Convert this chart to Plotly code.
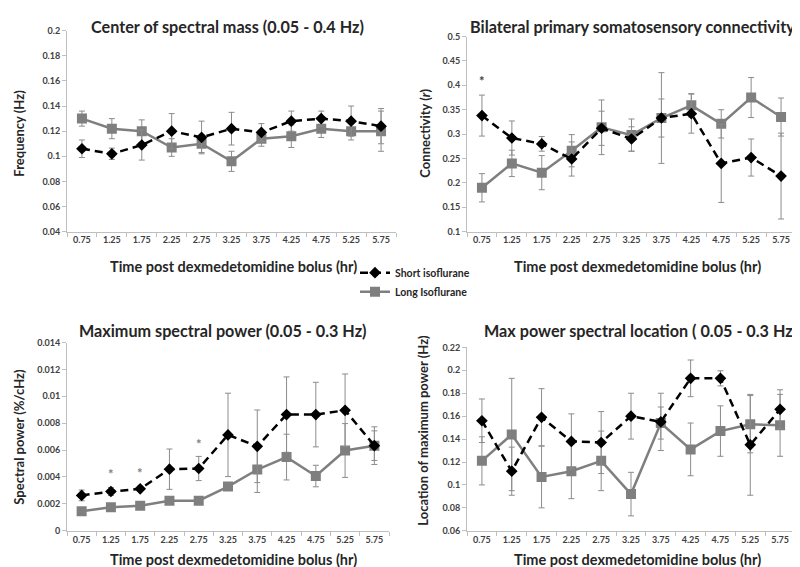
import plotly.graph_objects as go

times = ["0.75", "1.25", "1.75", "2.25", "2.75", "3.25", "3.75", "4.25", "4.75", "5.25", "5.75"]

# Panel 1: Center of spectral mass
freq_short = [0.106, 0.102, 0.109, 0.120, 0.115, 0.122, 0.119, 0.128, 0.130, 0.128, 0.124]
freq_short_err = [0.007, 0.0045, 0.012, 0.014, 0.013, 0.013, 0.007, 0.008, 0.006, 0.012, 0.014]
freq_long = [0.130, 0.122, 0.120, 0.107, 0.110, 0.096, 0.114, 0.116, 0.122, 0.120, 0.120]
freq_long_err = [0.006, 0.008, 0.009, 0.007, 0.007, 0.008, 0.006, 0.009, 0.007, 0.007, 0.016]

# Panel 2: Bilateral primary somatosensory connectivity
conn_short = [0.338, 0.292, 0.280, 0.249, 0.312, 0.290, 0.333, 0.342, 0.240, 0.252, 0.214]
conn_short_err = [0.042, 0.035, 0.015, 0.035, 0.035, 0.025, 0.039, 0.040, 0.080, 0.038, 0.088]
conn_long = [0.190, 0.240, 0.221, 0.266, 0.314, 0.298, 0.333, 0.359, 0.321, 0.375, 0.335]
conn_long_err = [0.029, 0.027, 0.035, 0.033, 0.056, 0.033, 0.093, 0.024, 0.029, 0.041, 0.039]

# Panel 3: Maximum spectral power
pow_short = [0.00263, 0.00292, 0.00312, 0.00458, 0.00463, 0.00713, 0.00628, 0.00864, 0.00864, 0.00896, 0.00633]
pow_short_err = [0.0004, 0.0003, 0.0002, 0.0015, 0.0009, 0.0031, 0.0027, 0.0028, 0.0024, 0.0027, 0.0011]
pow_long = [0.00146, 0.00175, 0.00187, 0.00224, 0.00224, 0.00329, 0.00455, 0.00548, 0.00407, 0.00597, 0.00633]
pow_long_err = [0.0001, 0.0001, 0.0001, 0.0001, 0.0001, 0.0002, 0.0017, 0.0017, 0.0008, 0.0020, 0.0014]

# Panel 4: Max power spectral location
loc_short = [0.156, 0.112, 0.159, 0.138, 0.137, 0.160, 0.155, 0.193, 0.193, 0.135, 0.166]
loc_short_err = [0.019, 0.021, 0.025, 0.024, 0.027, 0.020, 0.025, 0.016, 0.0066, 0.044, 0.017]
loc_long = [0.121, 0.144, 0.107, 0.112, 0.121, 0.092, 0.154, 0.131, 0.147, 0.153, 0.152]
loc_long_err = [0.021, 0.049, 0.027, 0.024, 0.026, 0.019, 0.014, 0.023, 0.022, 0.025, 0.027]

# significance markers (category, value)
sig_conn = [("0.75", 0.408)]
sig_pow = [("1.25", 0.0042), ("1.75", 0.00433), ("2.75", 0.00645)]

FONT = "Lato"
ERR_COL = "#8c8c8c"
LONG_COL = "#7f7f7f"
AX_COL = "#bfbfbf"
TXT = "#262626"

fig = go.Figure()

panels = [
    ("x", "y", freq_short, freq_short_err, freq_long, freq_long_err),
    ("x2", "y2", conn_short, conn_short_err, conn_long, conn_long_err),
    ("x3", "y3", pow_short, pow_short_err, pow_long, pow_long_err),
    ("x4", "y4", loc_short, loc_short_err, loc_long, loc_long_err),
]

for i, (xa, ya, s, se, l, le) in enumerate(panels):
    fig.add_trace(go.Scatter(
        x=times, y=l, xaxis=xa, yaxis=ya, mode="lines+markers",
        name="Long Isoflurane", showlegend=(i == 0), legendrank=2,
        line=dict(color=LONG_COL, width=2.5),
        marker=dict(symbol="square", size=10, color=LONG_COL),
        error_y=dict(type="data", array=le, color=ERR_COL, thickness=1, width=3),
    ))
    fig.add_trace(go.Scatter(
        x=times, y=s, xaxis=xa, yaxis=ya, mode="lines+markers",
        name="Short isoflurane", showlegend=(i == 0), legendrank=1,
        line=dict(color="black", width=2.5, dash="8px,5px"),
        marker=dict(symbol="diamond", size=9, color="black"),
        error_y=dict(type="data", array=se, color=ERR_COL, thickness=1, width=3),
    ))

W, H = 800, 567
def px(x): return x / W
def py(y): return 1 - y / H

doms = {
    1: ([px(59), px(388)], [py(222), py(17)]),
    2: ([px(459), px(788)], [py(222), py(23)]),
    3: ([px(59), px(381)], [py(527), py(335)]),
    4: ([px(459), px(787)], [py(527), py(340)]),
}
yranges = {1: (0.04, 0.2, 0.02), 2: (0.1, 0.5, 0.05), 3: (0, 0.014, 0.002), 4: (0.06, 0.22, 0.02)}

layout = dict(
    width=W, height=H, margin=dict(l=0, r=0, t=0, b=0),
    paper_bgcolor="white", plot_bgcolor="white",
    font=dict(family=FONT, color=TXT, weight="bold"),
    legend=dict(x=px(347), y=py(249), xanchor="left", yanchor="top",
                font=dict(size=10.5, family=FONT, weight="bold"),
                itemwidth=30, bgcolor="rgba(0,0,0,0)"),
    showlegend=True,
)
for k in range(1, 5):
    sx = "" if k == 1 else str(k)
    xd, yd = doms[k]
    r0, r1, dt = yranges[k]
    tv = []
    v = r0
    while v <= r1 + 1e-9:
        tv.append(round(v, 6))
        v += dt
    tt = [("%g" % t) for t in tv]
    layout["xaxis" + sx] = dict(
        domain=xd, anchor="y" + sx, type="category", range=[-0.5, 10.5],
        showline=True, linecolor=AX_COL, linewidth=1, ticks="outside",
        tickson="boundaries", ticklen=4, tickcolor=AX_COL, showgrid=False,
        tickfont=dict(size=9, family=FONT, weight="bold", color="#404040"),
        zeroline=False,
    )
    layout["yaxis" + sx] = dict(
        domain=yd, anchor="x" + sx, range=[r0, r1],
        tickvals=tv, ticktext=tt,
        showline=True, linecolor=AX_COL, linewidth=1, ticks="outside",
        ticklen=4, tickcolor=AX_COL, showgrid=False, zeroline=False,
        tickfont=dict(size=9, family=FONT, weight="bold", color="#404040"),
    )
fig.update_layout(**layout)

ann = []
titles = [
    ("Center of spectral mass (0.05 - 0.4 Hz)", 219, 13),
    ("Bilateral primary somatosensory connectivity", 624, 13),
    ("Maximum spectral power (0.05 - 0.3 Hz)", 215, 323),
    ("Max power spectral location ( 0.05 - 0.3 Hz)", 632, 323),
]
for t, x, y in titles:
    ann.append(dict(text=t, x=px(x), y=py(y), xref="paper", yref="paper",
                    showarrow=False, xanchor="center", yanchor="middle",
                    font=dict(size=16.2, family=FONT, weight="bold", color=TXT)))
xtitles = [(226, 257), (629, 257), (226, 556), (629, 556)]
for x, y in xtitles:
    ann.append(dict(text="Time post dexmedetomidine bolus (hr)", x=px(x), y=py(y),
                    xref="paper", yref="paper", showarrow=False,
                    xanchor="center", yanchor="middle",
                    font=dict(size=14.5, family=FONT, weight="bold", color=TXT)))
ytitles = [("Frequency (Hz)", 11, 122), ("Connectivity (<i>r</i>)", 417, 122),
           ("Spectral power (%/cHz)", 11, 431), ("Location of maximum power (Hz)", 415, 425)]
for t, x, y in ytitles:
    ann.append(dict(text=t, x=px(x), y=py(y), xref="paper", yref="paper",
                    showarrow=False, textangle=-90, xanchor="center", yanchor="middle",
                    font=dict(size=13, family=FONT, weight="bold", color=TXT)))
for c, v in sig_conn:
    ann.append(dict(text="*", x=times.index(c), y=v, xref="x2", yref="y2", showarrow=False,
                    font=dict(size=13, color="#404040")))
for c, v in sig_pow:
    ann.append(dict(text="*", x=times.index(c), y=v, xref="x3", yref="y3", showarrow=False,
                    font=dict(size=13, color="#808080")))
fig.update_layout(annotations=ann)

fig.write_html("out.html")
